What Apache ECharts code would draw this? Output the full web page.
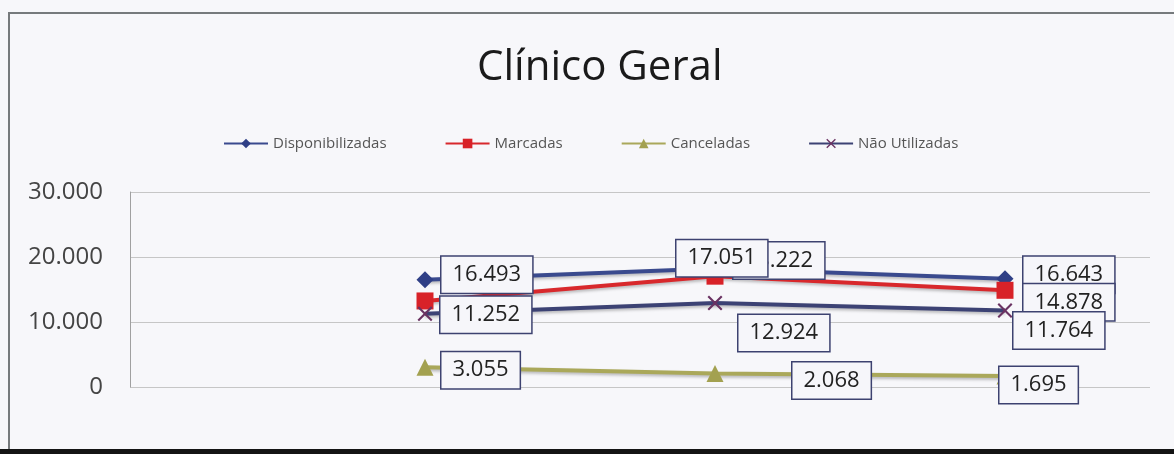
<!DOCTYPE html>
<html lang="pt">

<head>
  <meta charset="utf-8" />
</head>

<body style="margin: 0; background: #f7f7fa">
  <div id="container" style="width: 1174px; height: 454px"></div>

  <script src="https://cdn.jsdelivr.net/npm/echarts@6/dist/echarts.min.js"></script>

  <script type="text/javascript">
    // chart data
    var categories = ["Período 1", "Período 2", "Período 3"];
    var seriesNames = ["Disponibilizadas", "Marcadas", "Canceladas", "Não Utilizadas"];
    var disponibilizadas = [16493, 18222, 16643];
    var marcadas = [13238, 17051, 14878];
    var canceladas = [3055, 2068, 1695];
    var naoUtilizadas = [11252, 12924, 11764];
    var yTicks = [0, 10000, 20000, 30000];

    function fmt(v) {
      return String(v).replace(/\B(?=(\d{3})+(?!\d))/g, ".");
    }

    // label offsets per point, so the boxes sit like the original
    var labelOffsets = [
      [[3, -5], [5, -8], [5, -4]],
      [null, [-52, -18], [5, 12]],
      [[3, 3], [64, 7], [-19, 9]],
      [[3, 1], [11, 30], [-4, 20]]
    ];

    var colors = ["#3a4a8e", "#d8282c", "#aaa85a", "#3c4274"];
    var symbols = [
      "diamond",
      "rect",
      "triangle",
      "path://M0,1 L1,0 L5,4 L9,0 L10,1 L6,5 L10,9 L9,10 L5,6 L1,10 L0,9 L4,5 Z"
    ];
    var symbolColors = ["#2f3f86", "#d82228", "#a3a150", "#6a3262"];
    var values = [disponibilizadas, marcadas, canceladas, naoUtilizadas];

    var labelBase = {
      show: true,
      position: "right",
      distance: 5,
      fontFamily: "Open Sans",
      fontSize: 22,
      color: "#222",
      backgroundColor: "#f6f6fa",
      borderColor: "#3d4270",
      borderWidth: 1.5,
      padding: [8, 11, 6, 11],
      formatter: function (p) { return fmt(p.value); }
    };

    var series = values.map(function (vals, s) {
      return {
        name: seriesNames[s],
        type: "line",
        xAxisIndex: 1,
        yAxisIndex: 1,
        symbol: symbols[s],
        symbolSize: s === 3 ? 15 : 17,
        itemStyle: { color: symbolColors[s] },
        lineStyle: {
          color: colors[s],
          width: 4,
          shadowColor: "rgba(0,0,0,0.25)",
          shadowBlur: 3,
          shadowOffsetY: 2
        },
        label: labelBase,
        data: vals.map(function (v, i) {
          var off = labelOffsets[s][i];
          if (!off) return { value: v, label: { show: false } };
          return { value: v, label: { offset: off } };
        })
      };
    });

    var myChart = echarts.init(document.getElementById("container"), null, { renderer: "canvas" });

    var option = {
      backgroundColor: "#f7f7fa",
      animation: false,
      color: colors,
      title: {
        text: "Clínico Geral",
        left: 472,
        top: 42,
        textStyle: { fontFamily: "Open Sans", fontSize: 42, fontWeight: 500, color: "#1a1a1a" }
      },
      legend: {
        data: seriesNames,
        top: 131,
        left: 218,
        itemWidth: 44,
        itemHeight: 12,
        itemGap: 58,
        textStyle: { fontFamily: "Open Sans", fontSize: 15, color: "#555" }
      },
      grid: [
        { left: 130, right: 24, top: 192, bottom: 67 },
        { left: 280, right: 24, top: 192, bottom: 67 }
      ],
      xAxis: [
        { gridIndex: 0, type: "category", data: categories, show: false },
        {
          gridIndex: 1, type: "category", data: categories, boundaryGap: true,
          axisLine: { show: false }, axisTick: { show: false }, axisLabel: { show: false }
        }
      ],
      yAxis: [
        {
          gridIndex: 0, type: "value", min: yTicks[0], max: yTicks[yTicks.length - 1], interval: 10000,
          axisLine: { show: true, lineStyle: { color: "#a0a0a0" } },
          axisTick: { show: false },
          splitLine: { lineStyle: { color: "#c6c6c6" } },
          axisLabel: {
            margin: 27, fontFamily: "Open Sans", fontSize: 24, color: "#444",
            formatter: function (v) { return fmt(v); }
          }
        },
        { gridIndex: 1, type: "value", min: 0, max: 30000, interval: 10000, show: false, splitLine: { show: false } }
      ],
      graphic: [
        {
          type: "rect", z: -1,
          shape: { x: 9, y: 13, width: 1175, height: 438 },
          style: { fill: null, stroke: "#767a7c", lineWidth: 2 }
        },
        {
          type: "rect", z: 10,
          shape: { x: 0, y: 449, width: 1174, height: 5 },
          style: { fill: "#141414" }
        }
      ],
      series: series
    };

    myChart.setOption(option);
  </script>
</body>

</html>
